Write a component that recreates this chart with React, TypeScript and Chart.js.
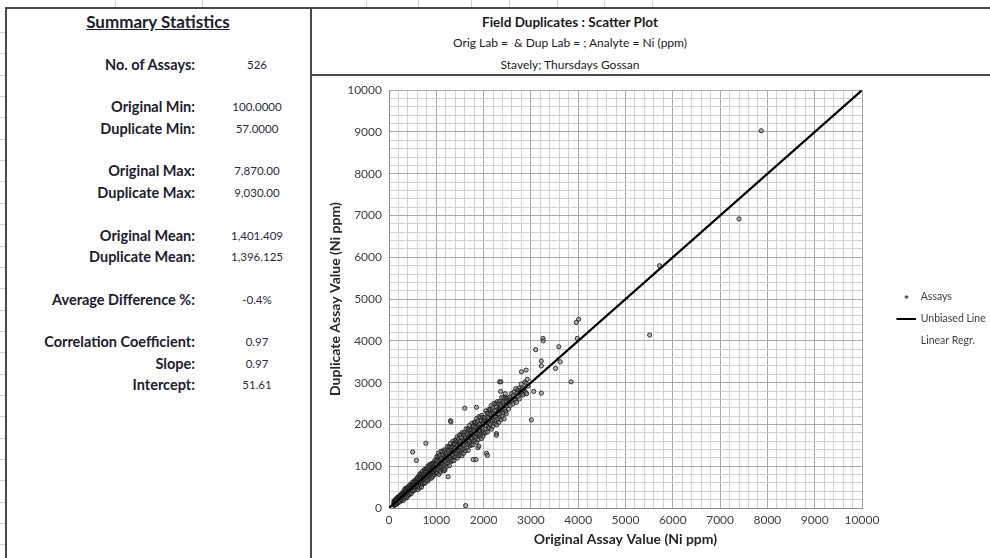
import React, { useEffect, useRef } from "react";
import { Chart, registerables } from "chart.js";

Chart.register(...registerables);

// ---------- text content ----------
const summaryHeading = "Summary Statistics";
const statLabels = [
  "No. of Assays:",
  "Original Min:",
  "Duplicate Min:",
  "Original Max:",
  "Duplicate Max:",
  "Original Mean:",
  "Duplicate Mean:",
  "Average Difference %:",
  "Correlation Coefficient:",
  "Slope:",
  "Intercept:",
];
const statValues = [
  "526",
  "100.0000",
  "57.0000",
  "7,870.00",
  "9,030.00",
  "1,401.409",
  "1,396.125",
  "-0.4%",
  "0.97",
  "0.97",
  "51.61",
];
const statRows = [2, 4, 5, 7, 8, 10, 11, 13, 15, 16, 17];

const titleLines = [
  "Field Duplicates : Scatter Plot",
  "Orig Lab =  & Dup Lab = ; Analyte = Ni (ppm)",
  "Stavely; Thursdays Gossan",
];
const xAxisTitle = "Original Assay Value (Ni ppm)";
const yAxisTitle = "Duplicate Assay Value (Ni ppm)";
const legendLabels = ["Assays", "Unbiased Line", "Linear Regr."];

// ---------- axes ----------
const axisMin = 0;
const axisMax = 10000;
const minorStep = 200;
const majorStep = 1000;

// ---------- data ----------
const unbiasedLine: [number, number][] = [
  [0, 0],
  [10000, 10000],
];
const regressionLine: [number, number][] = [];

// [original, duplicate] pairs
const assaysTo300: [number, number][] = [
  [100,131],[103,65],[107,117],[110,178],[113,87],[117,115],[120,170],[123,68],[127,147],[130,171],
  [133,87],[137,143],[140,202],[143,121],[147,94],[150,178],[153,209],[157,143],[160,123],[163,236],
  [167,97],[170,184],[173,217],[177,148],[180,232],[183,122],[187,205],[190,185],[193,264],[197,164],
  [200,226],[203,141],[207,210],[210,188],[213,280],[217,163],[220,260],[223,141],[227,300],[230,219],
  [233,186],[237,256],[240,293],[243,166],[247,256],[250,222],[253,314],[257,208],[260,261],[263,297],
  [267,196],[270,284],[273,348],[277,259],[280,223],[283,326],[287,278],[290,319],[293,254],[297,362],
];
const assaysTo600: [number, number][] = [
  [300,179],[304,329],[309,384],[313,264],[317,407],[321,216],[326,357],[330,321],[334,458],[339,282],
  [343,383],[347,252],[351,355],[356,322],[360,463],[364,281],[369,430],[373,247],[377,489],[381,364],
  [386,314],[390,419],[394,475],[399,282],[403,417],[407,364],[411,505],[416,341],[420,421],[424,476],
  [429,320],[433,454],[437,551],[441,414],[446,359],[450,516],[454,441],[459,503],[463,403],[467,567],
  [471,342],[476,484],[480,558],[484,444],[489,609],[493,424],[497,533],[500,1340],[501,403],[506,565],
  [510,489],[514,569],[519,419],[523,540],[527,645],[531,485],[536,533],[540,626],[544,430],[549,584],
  [553,623],[557,478],[561,571],[566,674],[570,532],[574,482],[579,627],[580,1140],[583,679],[587,564],
  [591,527],[596,722],
];
const assaysTo1000: [number, number][] = [
  [600,495],[604,646],[609,727],[613,442],[618,639],[622,559],[627,764],[631,521],[636,638],[640,716],
  [645,485],[649,679],[653,820],[658,618],[662,535],[667,764],[671,652],[676,741],[680,593],[685,831],
  [689,501],[694,705],[698,812],[702,643],[707,882],[711,610],[716,769],[720,577],[725,811],[729,699],
  [734,814],[738,592],[742,767],[747,920],[751,684],[756,752],[760,885],[765,598],[769,820],[774,877],
  [778,662],[780,1550],[783,798],[787,945],[791,736],[796,661],[800,870],[805,946],[809,775],[814,721],
  [818,1002],[823,646],[827,863],[831,941],[836,764],[840,971],[845,691],[849,895],[854,841],[858,1039],
  [863,779],[867,926],[872,733],[876,882],[880,831],[885,1035],[889,767],[894,983],[898,714],[903,1066],
  [907,882],[912,807],[916,958],[920,1038],[925,754],[929,950],[934,871],[938,1075],[943,833],[947,949],
  [952,1028],[956,796],[960,990],[965,1132],[969,929],[974,847],[978,1075],[983,964],[987,1052],[992,905],
  [996,1142],
];
const assaysTo1500: [number, number][] = [
  [1000,835],[1006,1028],[1011,1235],[1017,939],[1022,830],[1028,1128],[1033,1233],[1039,990],[1044,912],[1050,1312],
  [1056,805],[1061,1112],[1067,1224],[1072,969],[1078,1264],[1083,864],[1089,1154],[1094,1075],[1100,1357],[1106,987],
  [1111,1195],[1117,920],[1122,1130],[1128,1058],[1133,1346],[1139,966],[1144,1271],[1150,888],[1156,1388],[1161,1126],
  [1167,1018],[1172,1231],[1178,1345],[1180,900],[1183,940],[1189,1219],[1194,1105],[1200,1394],[1206,1049],[1211,1214],
  [1217,1325],[1222,995],[1228,1271],[1233,1471],[1239,1182],[1244,1063],[1250,750],[1250,1388],[1256,1229],[1261,1353],
  [1267,1143],[1272,1480],[1278,1011],[1283,1299],[1289,1451],[1294,1210],[1300,2090],[1300,1548],[1306,1163],[1310,2060],
  [1311,1387],[1317,1114],[1322,1444],[1328,1285],[1333,1446],[1339,1131],[1344,1379],[1350,1596],[1356,1261],[1361,1356],
  [1367,1545],[1372,1134],[1378,1451],[1383,1529],[1389,1224],[1394,1416],[1400,1624],[1406,1328],[1411,1219],[1417,1517],
  [1422,1622],[1428,1379],[1433,1301],[1439,1701],[1444,1193],[1450,1501],[1456,1613],[1461,1358],[1467,1653],[1472,1253],
  [1478,1543],[1483,1464],[1489,1746],[1494,1375],
];
const assaysTo2000: [number, number][] = [
  [1500,1593],[1506,1287],[1512,1521],[1518,1440],[1524,1761],[1529,1337],[1535,1676],[1541,1250],[1547,1805],[1553,1514],
  [1559,1394],[1565,1631],[1571,1757],[1576,1306],[1582,1615],[1588,1489],[1594,1810],[1600,2390],[1600,1426],[1606,1609],
  [1612,1732],[1618,1366],[1620,57],[1624,1672],[1629,1893],[1635,1572],[1641,1440],[1647,1800],[1653,1623],[1659,1761],
  [1665,1527],[1671,1902],[1676,1379],[1682,1700],[1688,1868],[1694,1601],[1700,1976],[1706,1547],[1712,1796],[1718,1493],
  [1724,1859],[1729,1681],[1735,1861],[1741,1510],[1747,1786],[1753,2026],[1759,1654],[1765,1759],[1771,1969],[1776,1512],
  [1780,1160],[1782,1863],[1788,1950],[1794,1611],[1800,1824],[1806,2055],[1812,1725],[1818,1605],[1824,1935],[1829,2051],
  [1835,1781],[1840,1160],[1841,1694],[1847,2138],[1850,2410],[1853,1574],[1859,1916],[1865,2039],[1871,1757],[1876,2083],
  [1880,1440],[1882,1639],[1888,1960],[1894,1873],[1900,2185],[1900,1480],[1906,1774],[1912,2005],[1918,1699],[1924,1933],
  [1929,1851],[1935,2172],[1941,1749],[1947,2088],[1953,1662],[1959,2217],[1965,1926],[1971,1806],[1976,2042],[1982,2168],
  [1988,1718],[1994,2027],
];
const assaysTo2500: [number, number][] = [
  [2000,1841],[2007,2091],[2013,1788],[2020,2155],[2027,1979],[2033,2159],[2040,1809],[2047,2086],[2053,2326],[2060,1955],
  [2060,1310],[2067,2061],[2073,2271],[2080,1816],[2080,1260],[2087,2168],[2093,2255],[2100,1917],[2107,2131],[2113,2362],
  [2120,2033],[2127,1914],[2133,2244],[2140,2362],[2147,2093],[2153,2006],[2160,2451],[2167,1888],[2173,2230],[2180,2354],
  [2187,2073],[2193,2400],[2200,1957],[2207,2279],[2213,2192],[2220,2505],[2227,2095],[2233,2326],[2240,2021],[2247,2256],
  [2253,2175],[2260,2497],[2267,2075],[2270,1780],[2270,1740],[2273,2414],[2280,1989],[2287,2545],[2293,2254],[2300,2135],
  [2307,2373],[2313,2499],[2320,2050],[2327,2360],[2333,2234],[2340,3020],[2340,2556],[2347,2173],[2353,2356],[2360,2790],
  [2360,2480],[2365,3020],[2367,2115],[2373,2421],[2380,2644],[2387,2324],[2393,2192],[2400,2553],[2407,2377],[2413,2515],
  [2420,2282],[2427,2658],[2433,2136],[2440,2458],[2447,2627],[2453,2360],[2460,2736],[2467,2308],[2473,2557],[2480,2255],
  [2487,2622],[2493,2445],
];
const assaysTo3000: [number, number][] = [
  [2500,2496],[2513,2632],[2526,2368],[2539,2588],[2551,2648],[2564,2454],[2577,2591],[2590,2739],[2603,2551],[2616,2488],
  [2629,2696],[2641,2774],[2654,2622],[2667,2579],[2680,2855],[2693,2526],[2706,2740],[2719,2823],[2731,2663],[2744,2868],
  [2757,2611],[2770,2813],[2783,2770],[2796,2967],[2800,3260],[2809,2730],[2821,2877],[2834,2703],[2847,2852],[2860,2813],
  [2873,3015],[2886,2771],[2899,2984],[2900,3300],[2911,2736],[2924,3079],[2937,2914],
];
const assaysAbove3000: [number, number][] = [
  [3010,2110],[3060,2790],[3100,3790],[3220,3520],[3220,3400],[3220,2750],[3255,4060],[3260,4000],[3520,3340],[3590,3860],
  [3620,3500],[3850,3020],[3960,4440],[3980,4060],[4010,4520],[5510,4140],[5720,5800],[7400,6920],[7870,9030],
];

// spreadsheet decoration (column / row boundary marks)
const sheetColumnMarks = [115, 202, 366, 418, 471, 509, 557, 604, 652];
const sheetRowCount = 25;

const FONT = "Lato, 'Open Sans', sans-serif";
const ROW_H = 21.35;
const ROW0 = 22;
const LEGEND_FONT = 10.5;
const CANVAS_W = 700;
const CANVAS_H = 482;
const PLOT_RIGHT = 551;

function makeMarker(kind: "dot" | "line" | "none"): HTMLCanvasElement {
  const c = document.createElement("canvas");
  c.width = 42;
  c.height = 6;
  const g = c.getContext("2d")!;
  if (kind === "dot") {
    g.fillStyle = "#404040";
    g.beginPath();
    g.arc(33, 3, 1.7, 0, Math.PI * 2);
    g.fill();
  } else if (kind === "line") {
    g.fillStyle = "#000000";
    g.fillRect(23, 2, 19, 2);
  }
  return c;
}

function ScatterChart() {
  const ref = useRef<HTMLCanvasElement>(null);
  useEffect(() => {
    if (!ref.current) return;
    const markers = [makeMarker("dot"), makeMarker("line"), makeMarker("none")];
    const mctx = document.createElement("canvas").getContext("2d")!;
    mctx.font = `normal ${LEGEND_FONT}px ${FONT}`;
    const textW = Math.max(...legendLabels.map((l) => mctx.measureText(l).width));
    const legendW = 11.5 + 42 + LEGEND_FONT / 2 + textW + 10;
    const padRight = CANVAS_W - PLOT_RIGHT - legendW;

    const allAssays = [
      ...assaysTo300,
      ...assaysTo600,
      ...assaysTo1000,
      ...assaysTo1500,
      ...assaysTo2000,
      ...assaysTo2500,
      ...assaysTo3000,
      ...assaysAbove3000,
    ];
    const gridColor = (ctx: any) =>
      ctx.tick && Math.round(ctx.tick.value) % majorStep === 0 ? "#a8a8a8" : "#d0d0d0";
    const tickCb = (v: any) =>
      Math.round(Number(v)) % majorStep === 0 ? String(Math.round(Number(v))) : "";
    const chart = new Chart(ref.current, {
      type: "scatter",
      data: {
        datasets: [
          {
            label: legendLabels[0],
            data: allAssays.map(([x, y]) => ({ x, y })),
            pointRadius: 2.1,
            pointBorderWidth: 0.9,
            borderColor: "#1e1e1e",
            backgroundColor: "rgba(125,125,125,0.55)",
            order: 2,
          },
          {
            label: legendLabels[1],
            data: unbiasedLine.map(([x, y]) => ({ x, y })),
            showLine: true,
            borderColor: "#000000",
            borderWidth: 2.2,
            pointRadius: 0,
            backgroundColor: "#000000",
            order: 0,
          },
          {
            label: legendLabels[2],
            data: regressionLine.map(([x, y]) => ({ x, y })),
            showLine: true,
            borderColor: "rgba(0,0,0,0)",
            pointRadius: 0,
            order: 1,
          },
        ],
      },
      options: {
        animation: false,
        responsive: false,
        events: [],
        layout: { padding: { top: 12, left: 0, right: padRight, bottom: 8 } },
        plugins: {
          tooltip: { enabled: false },
          legend: {
            position: "right",
            labels: {
              usePointStyle: true,
              pointStyleWidth: 42,
              padding: 11.5,
              color: "#404040",
              font: { family: FONT, size: LEGEND_FONT },
              generateLabels: (ch: any) => {
                const items = Chart.defaults.plugins.legend.labels.generateLabels(ch);
                items.sort((a: any, b: any) => a.datasetIndex - b.datasetIndex);
                return items.map((it: any) => ({
                  ...it,
                  pointStyle: markers[it.datasetIndex],
                  hidden: false,
                }));
              },
            },
          },
        },
        scales: {
          x: {
            type: "linear",
            min: axisMin,
            max: axisMax,
            afterFit: (s: any) => {
              s.height = 42;
            },
            ticks: {
              stepSize: minorStep,
              autoSkip: false,
              maxRotation: 0,
              padding: 5,
              color: "#404040",
              font: { family: FONT, size: 12 },
              callback: tickCb,
            },
            grid: { color: gridColor, drawTicks: false, lineWidth: 1 },
            border: { color: "#8c8c8c" },
            title: {
              display: true,
              text: xAxisTitle,
              color: "#262626",
              font: { family: FONT, size: 14, weight: "bold" },
              padding: { top: 0, bottom: 2.5 },
            },
          },
          y: {
            type: "linear",
            min: axisMin,
            max: axisMax,
            afterFit: (s: any) => {
              s.width = 78;
            },
            ticks: {
              stepSize: minorStep,
              autoSkip: false,
              padding: 7,
              color: "#404040",
              font: { family: FONT, size: 12 },
              callback: tickCb,
            },
            grid: { color: gridColor, drawTicks: false, lineWidth: 1 },
            border: { color: "#8c8c8c" },
            title: {
              display: true,
              text: yAxisTitle,
              color: "#262626",
              font: { family: FONT, size: 14, weight: "bold" },
              padding: { top: 16.5, bottom: 0 },
            },
          },
        },
      } as any,
    });
    return () => chart.destroy();
  }, []);
  return (
    <canvas
      ref={ref}
      width={CANVAS_W}
      height={CANVAS_H}
      style={{ position: "absolute", left: 311, top: 76, width: CANVAS_W, height: CANVAS_H }}
    />
  );
}

export default function App() {
  const line = (s: React.CSSProperties) => (
    <div style={{ position: "absolute", background: "#4a4a4a", ...s }} />
  );
  return (
    <div
      style={{
        position: "absolute",
        left: 0,
        top: 0,
        width: 990,
        height: 558,
        overflow: "hidden",
        background: "#ffffff",
        fontFamily: FONT,
      }}
    >
      {sheetColumnMarks.map((x, i) => (
        <div key={"c" + i} style={{ position: "absolute", left: x, top: 0, width: 1, height: 7, background: "#cfcfcf" }} />
      ))}
      {Array.from({ length: sheetRowCount }, (_, i) => (
        <div key={"r" + i} style={{ position: "absolute", left: 0, top: Math.round(32 + i * ROW_H), width: 5, height: 1, background: "#cfcfcf" }} />
      ))}
      {line({ left: 5, top: 7, width: 990, height: 2 })}
      {line({ left: 5, top: 7, width: 2, height: 560 })}
      {line({ left: 310, top: 7, width: 2, height: 560 })}
      {line({ left: 310, top: 74, width: 700, height: 2 })}

      <div
        style={{
          position: "absolute",
          left: 8,
          width: 300,
          top: ROW0 - 10,
          height: 20,
          lineHeight: "20px",
          textAlign: "center",
          fontWeight: 700,
          fontSize: 17,
          color: "#1c1c2e",
          textDecoration: "underline",
        }}
      >
        {summaryHeading}
      </div>
      {statLabels.map((lab, i) => {
        const cy = ROW0 + statRows[i] * ROW_H;
        return (
          <React.Fragment key={lab}>
            <div
              style={{
                position: "absolute",
                left: 0,
                width: 195,
                top: cy - 9,
                height: 18,
                lineHeight: "18px",
                textAlign: "right",
                fontWeight: 700,
                fontSize: 14.5,
                color: "#1c1c2e",
                whiteSpace: "nowrap",
              }}
            >
              {lab}
            </div>
            <div
              style={{
                position: "absolute",
                left: 207,
                width: 100,
                top: cy - 8,
                height: 16,
                lineHeight: "16px",
                textAlign: "center",
                fontSize: 11.5,
                color: "#2a2a3a",
                whiteSpace: "nowrap",
              }}
            >
              {statValues[i]}
            </div>
          </React.Fragment>
        );
      })}

      {titleLines.map((t, i) => (
        <div
          key={t}
          style={{
            position: "absolute",
            left: 370,
            width: 400,
            top: ROW0 + i * ROW_H - 9,
            height: 18,
            lineHeight: "18px",
            textAlign: "center",
            fontWeight: i === 0 ? 700 : 400,
            fontSize: i === 0 ? 13.5 : 12,
            color: "#1a1a1a",
            whiteSpace: "pre",
          }}
        >
          {t}
        </div>
      ))}

      <ScatterChart />
    </div>
  );
}
